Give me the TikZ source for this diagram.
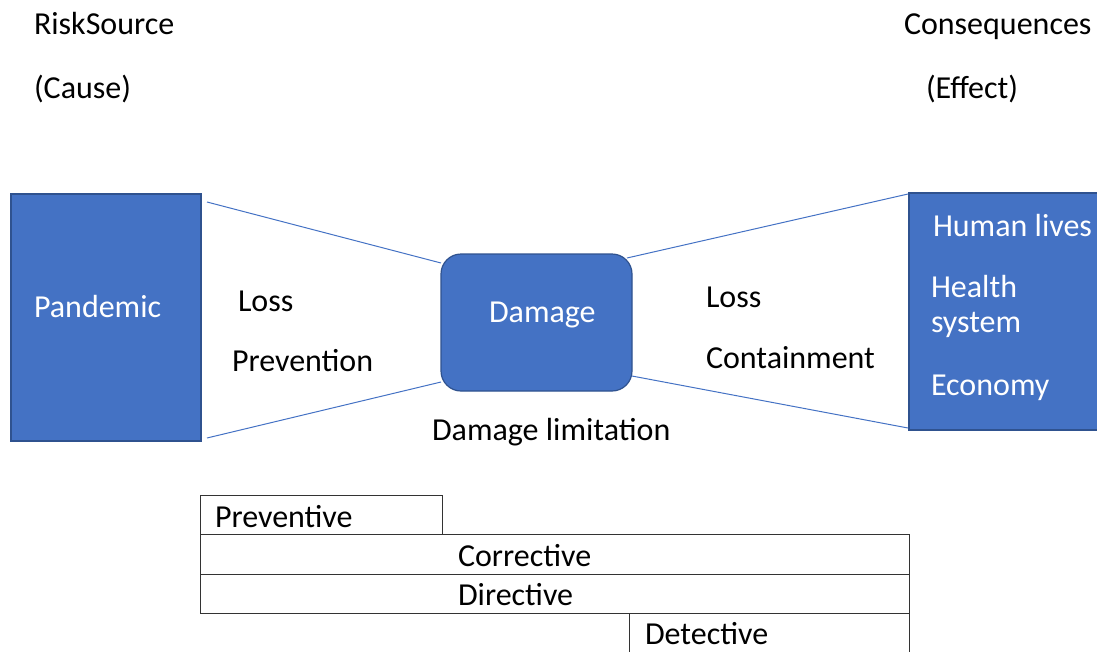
\documentclass[tikz,border=0pt]{standalone}
\usepackage{fontspec}
\setmainfont{Carlito}
\definecolor{officeblue}{HTML}{4472C4}
\definecolor{officeborder}{HTML}{2F528F}
\begin{document}
\begin{tikzpicture}[x=1pt,y=-1pt,
  every node/.style={font=\fontsize{32}{38}\selectfont, inner sep=0pt, outer sep=0pt},
  bluebox/.style={draw=officeborder, fill=officeblue, line width=1.2pt},
  conn/.style={draw=officeblue, line width=1pt},
  ctrlbox/.style={draw=black!80, line width=1pt},
  txt/.style={anchor=base west, text=black},
  wtxt/.style={anchor=base west, text=white}]
\useasboundingbox (0,0) rectangle (1097,651);
% blue boxes
\node[bluebox, minimum width=190pt, minimum height=247pt] (pan) at (106,317.5) {};
\node[bluebox, rounded corners=20pt, minimum width=191pt, minimum height=137pt] (dam) at (536.5,322.5) {};
\node[bluebox, minimum width=190pt, minimum height=237pt] (cons) at (1004,311.5) {};
% connector end points
\coordinate (p1) at (207,202);
\coordinate (p2) at (207,438);
\coordinate (d1) at (441,263);
\coordinate (d2) at (441,382);
\coordinate (d3) at (627,258);
\coordinate (d4) at (632,376);
\coordinate (c1) at (908,194);
\coordinate (c2) at (908,428);
\draw[conn] (p1) -- (d1);
\draw[conn] (p2) -- (d2);
\draw[conn] (d3) -- (c1);
\draw[conn] (d4) -- (c2);
% headings
\node[txt] (rs) at (34,34) {RiskSource};
\node[txt] (cause) at (34,98) {(Cause)};
\node[txt] (csq) at (904,34) {Consequences};
\node[txt] (eff) at (926,98) {(Effect)};
% box texts
\node[wtxt] (pant) at (34,317) {Pandemic};
\node[wtxt] (damt) at (489,322) {Damage};
\node[wtxt] (hl) at (933,236) {Human lives};
\node[wtxt] (hs) at (931,297) {Health};
\node[wtxt] (sy) at (931,332) {system};
\node[wtxt] (ec) at (931,395) {Economy};
% middle labels
\node[txt] (l1) at (238,311) {Loss};
\node[txt] (prev) at (232,371) {Prevention};
\node[txt] (l2) at (706,307) {Loss};
\node[txt] (cont) at (706,368) {Containment};
\node[txt] (dl) at (432,440) {Damage limitation};
% control boxes
\draw[ctrlbox] (200,534) -- (200,495) -- (442,495) -- (442,534);
\draw[ctrlbox] (200,534) rectangle (909,574);
\draw[ctrlbox] (200,574) rectangle (909,613);
\draw[ctrlbox] (629,660) -- (629,613);
\draw[ctrlbox] (909,660) -- (909,613);
\node[txt] (pv) at (215,527) {Preventive};
\node[txt] (co) at (458,566) {Corrective};
\node[txt] (di) at (458,605) {Directive};
\node[txt] (de) at (645,644) {Detective};
\end{tikzpicture}
\end{document}
